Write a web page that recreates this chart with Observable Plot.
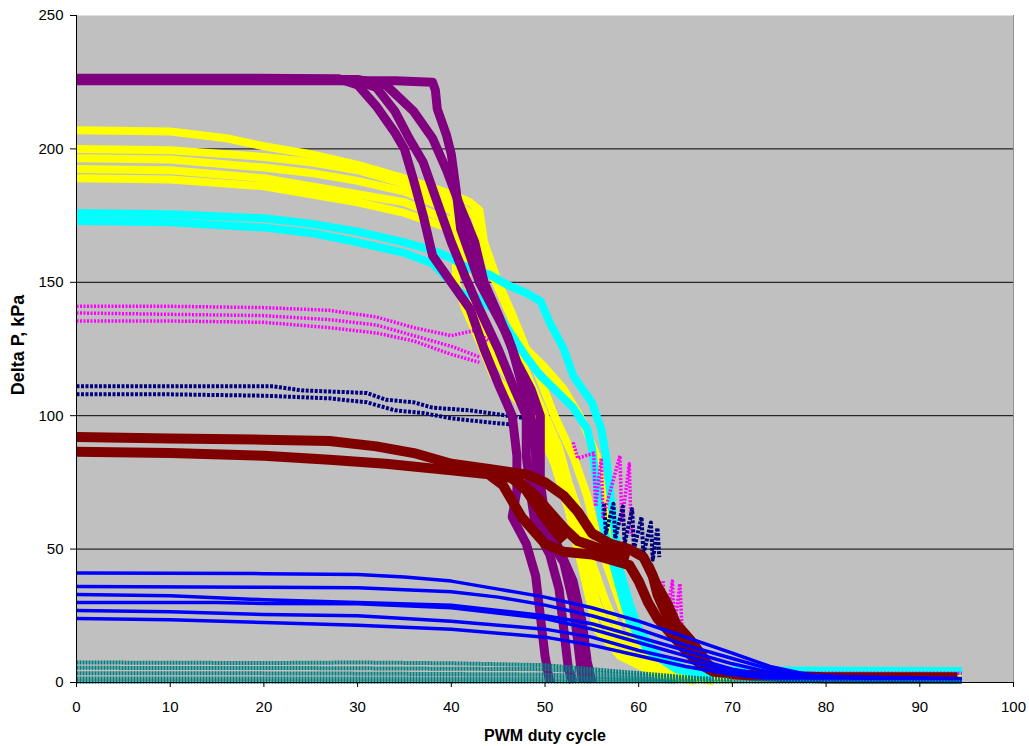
<!DOCTYPE html>
<html><head><meta charset="utf-8">
<script src="https://cdn.jsdelivr.net/npm/d3@7"></script>
<script src="https://cdn.jsdelivr.net/npm/@observablehq/plot@0.6"></script>
<style>body{margin:0;background:#fff;}</style>
</head><body><div id="chart"></div>
<script>
// ---- axis values ----
const xTicks = [0,10,20,30,40,50,60,70,80,90,100];
const yTicks = [0,50,100,150,200,250];
const gridValues = [50,100,150,200];
const xTitle = "PWM duty cycle";
const yTitle = "Delta P, kPa";

// ---- series: each is a list of curves, each curve a list of [duty, deltaP] ----
const yellowCurves = [
  [[0,207],[10,206.5],[16,204],[20,201],[25,198],[30,194],[35,189],[40,183],[42,180],[43,177],[43.5,165],[45,150],[46.5,138],[48,125],[50,118],[52,110],[54,98],[55.5,85],[56,74],[57,55],[58,40],[59,25],[60,12],[63,5],[67,2.5],[94.5,2.8]],
  [[0,200],[10,199.5],[20,197],[25,195],[30,192],[35,187],[40,180],[42.5,175],[43,168],[44.5,152],[46,140],[47.5,128],[49,118],[51,100],[53,85],[54.5,70],[55.5,55],[57,40],[58.5,25],[60,12],[62,6],[66,2],[70,1]],
  [[0,196.5],[10,196],[20,193],[25,191],[30,188],[35,184],[40,177],[41.5,170],[42,160],[43,150],[45,138],[47,125],[48.5,112],[50,100],[51.5,88],[52.5,75],[54,60],[55,45],[56.5,30],[58,18],[61,8],[65,3],[69,1]],
  [[0,192.5],[10,192],[20,189],[25,186],[30,183],[35,180],[40,173],[41,165],[41.5,155],[42,145],[43.5,132],[45,120],[46.5,112],[48.5,102],[50.5,90],[52,76],[53.5,60],[54.5,45],[55.5,30],[57,18],[60,8],[64,2.5],[68,0.5]],
  [[0,189],[10,188.5],[20,186],[25,183],[30,180],[35,176],[40,170],[40.5,160],[40.5,150],[41.5,140],[43,128],[44.5,115],[46.5,108],[49,98],[51,82],[52.5,65],[53.5,50],[54.5,35],[55.5,20],[58,10],[62,3],[66,0.5]]
];
const cyanCurves = [
  [[0,176],[10,175.5],[20,174],[25,172],[30,169],[35,165],[38,162],[40,159],[42,155],[44,153],[46,149],[48,146],[49.5,143],[50.5,135],[52,125],[53,115],[55,105],[56,95],[56.5,85],[57,70],[57.5,55],[58,42],[59,30],[60,20],[62,10],[65,5],[70,4.5],[94.5,4.3]],
  [[0,173],[10,172.5],[20,170.5],[25,168.5],[30,165],[35,161],[38,157],[40,150],[41,146],[43,144],[45,138],[46.5,130],[48,122],[49.5,115],[51,110],[53,103],[54.5,95],[55,88],[55.5,75],[56,62],[57,48],[58,35],[59,23],[61,12],[64,5],[68,2]]
];
const magentaCurves = [
  [[0,141],[10,141],[20,140.5],[27,139.5],[32,137],[36,133],[40,130],[42.5,132],[44,128]],
  [[0,138.5],[10,138],[20,137.5],[27,136],[32,134],[36,130],[40,126],[43,122]],
  [[0,135.5],[10,135.5],[20,135],[27,133],[32,131],[36,128],[40,123],[43,120]],
  [[53,90],[53.5,84],[55.2,86],[55.4,66],[56,84],[56.2,62],[58,85],[58.2,60],[59,82],[59.2,55]],
  [[62.6,38],[62.8,21],[63.6,38],[63.8,20],[64.4,37],[64.6,22],[65.5,15],[68,5],[75,3.5],[94.5,3.5]]
];
const navyCurves = [
  [[0,111],[10,111],[21,111],[24,109.5],[31,108.5],[33,106],[36,105],[38,103],[42,102],[46,100],[48,99]],
  [[0,108],[10,108],[20,107.5],[27,106.5],[31,105],[34,102],[37,101],[40,99],[44,97.5],[47,96.5]],
  [[56.3,67],[56.5,56],[57.3,67],[57.5,54],[58.3,66],[58.5,52],[59.3,65],[59.5,50],[60.3,62],[60.5,48],[61.3,60],[61.5,46],[62,58],[62.2,47]]
];
const purpleCurves = [
  [[0,226.5],[15,226.5],[28,226.3],[30,224],[32,216],[34,206],[35,200],[36,188],[37,175],[38,160],[40,150],[42,140],[43.5,125],[45,112],[46.5,100],[47,85],[47,72],[46.5,62],[48,52],[49,40],[49.5,25],[50,10],[50.5,0]],
  [[0,226],[20,226],[30,225.5],[32,223],[34,214],[35.5,204],[37,195],[38.5,180],[40,165],[41.5,152],[43,140],[45,125],[46.5,112],[48,100],[48,85],[48.5,70],[49,58],[50.5,48],[51.5,35],[52,20],[52.5,5],[53,0]],
  [[0,226],[30,226],[33,224],[36,214],[38,204],[39.5,192],[41,178],[42.5,165],[43.5,150],[45,138],[46.5,125],[47.5,112],[48.5,100],[49,85],[49,68],[50,56],[52,45],[53,30],[53.5,15],[54,0]],
  [[0,225.5],[25,225.5],[34,225.5],[38,225],[38.3,222],[38.5,215],[39.5,205],[40,198],[40.5,185],[41,170],[42,160],[43,150],[44.5,140],[46,130],[47,120],[48.5,110],[49.5,100],[49.5,88],[49.5,75],[50,62],[51.5,50],[53,38],[54,22],[54.5,8],[55,0]]
];
const darkRedCurves = [
  [[0,92],[10,91.5],[20,91],[27,90.5],[32,88.5],[36,86],[40,82],[44,80],[48,78],[50,75],[52,70],[53.5,64],[55,56],[57,52],[59,50],[60.5,47],[61.5,40],[62,33],[63,25],[64.5,18],[66,12],[67,8],[68,5],[70,3],[80,2],[94,2]],
  [[0,86.5],[10,86],[20,85],[27,83.5],[33,82],[40,79.5],[44,78],[45.5,74],[46.5,68],[47.5,62],[49,56],[50,52],[52,49],[55,48],[57,46],[59,44],[60,38],[61,30],[62,24],[63.5,18],[65,12],[66.5,7],[68,4],[72,2.5],[80,1.5],[94,1.5]],
  [[40,81],[44,79],[47,76],[49,70],[50.5,64],[52,58],[53.5,53],[56,50],[59,47]],
  [[46,78],[48,72],[49.5,64],[51,57],[52,53]],
  [[61,44],[62,36],[63,30],[64,22],[65.5,16],[67,9]]
];
const blueCurves = [
  [[0,41],[20,40.8],[30,40.5],[35,39.5],[40,38],[45,35],[50,32],[55,28],[60,23],[65,17],[70,11],[74,6],[78,3],[82,2],[94.5,1.5]],
  [[0,36],[20,35.7],[30,35.5],[40,34],[45,32],[50,29],[55,25],[60,20],[65,14],[70,9],[74,5],[78,2.5],[94.5,1.2]],
  [[0,33],[10,32.5],[20,31],[30,30],[40,29],[45,27],[50,25],[55,22],[60,17],[65,12],[70,7],[75,3],[78,1.5],[94.5,1]],
  [[0,30],[15,30],[20,29.6],[30,29.5],[40,28],[50,24],[55,20],[60,15],[65,10],[70,5],[75,2],[94.5,0.8]],
  [[0,27],[10,26.5],[20,25.5],[30,25],[40,23],[50,20],[55,17],[60,12],[65,8],[70,4],[75,1.5],[94.5,0.5]],
  [[0,24],[10,23.5],[20,22.5],[30,21.5],[40,20],[50,17],[55,14],[60,10],[65,6],[70,3],[75,1],[94.5,0.3]]
];
const tealCurves = [
  [[0,7.5],[20,7.3],[30,7.5],[40,7.2],[50,6.5],[55,5],[60,3.5],[65,2],[70,1]],
  [[0,5.5],[25,5.4],[50,5],[60,2.5],[68,1]],
  [[0,3.5],[25,3.4],[50,3],[60,1.5],[66,0.5]],
  [[0,1.5],[50,1.5],[60,1],[64,0.3]],
  [[0,0.3],[60,0.3],[94.5,0.2]]
];

// ---- drawing styles (not data) ----
const styles = [
  {name:"yellow",  curves:yellowCurves,  stroke:"#FFFF00", width:8},
  {name:"cyan",    curves:cyanCurves,    stroke:"#00FFFF", width:8},
  {name:"magenta", curves:magentaCurves, stroke:"#FF00FF", width:3.5, dash:"2,1.5"},
  {name:"navy",    curves:navyCurves,    stroke:"#000080", width:4, dash:"3,1.5"},
  {name:"purple",  curves:purpleCurves,  stroke:"#800080", width:9},
  {name:"darkred", curves:darkRedCurves, stroke:"#800000", width:10},
  {name:"blue",    curves:blueCurves,    stroke:"#0000FF", width:3.5},
  {name:"teal",    curves:tealCurves,    stroke:"#008080", width:4, dash:"2,1"}
];

const lineMarks = styles.map(s => {
  const rows = [];
  s.curves.forEach((c, i) => c.forEach(([x, y]) => rows.push({x, y, curve: s.name + i})));
  return Plot.line(rows, {x:"x", y:"y", z:"curve", stroke:s.stroke, strokeWidth:s.width,
    strokeDasharray:s.dash, strokeLinejoin:"round", strokeLinecap:"butt"});
});

const chart = Plot.plot({
  width: 1029, height: 746,
  marginLeft: 76, marginRight: 16, marginTop: 15, marginBottom: 64,
  x: {domain:[0,100]},
  y: {domain:[0,250]},
  style: {fontFamily:"'Liberation Sans', Arial, sans-serif", fontSize:"15px", color:"#000", background:"#fff"},
  marks: [
    Plot.frame({fill:"#C0C0C0", stroke:"none"}),
    Plot.ruleY(gridValues, {stroke:"#000", strokeWidth:1}),
    ...lineMarks,
    Plot.ruleX([100], {stroke:"#909090"}),
    Plot.ruleX([0], {stroke:"#000"}),
    Plot.ruleY([0], {stroke:"#000"}),
    Plot.axisX({ticks:xTicks, tickSize:5, tickPadding:14, label:null, fontSize:15}),
    Plot.axisY({ticks:yTicks, tickSize:6, tickPadding:7, label:null, fontSize:15}),
    Plot.text([xTitle], {text:d=>d, frameAnchor:"bottom", textAnchor:"middle", dy:58, fontWeight:"bold", fontSize:16}),
    Plot.text([yTitle], {text:d=>d, frameAnchor:"left", textAnchor:"middle", dx:-58, dy:-4, rotate:-90, fontWeight:"bold", fontSize:18})
  ]
});
document.getElementById("chart").appendChild(chart);
</script>
</body></html>
